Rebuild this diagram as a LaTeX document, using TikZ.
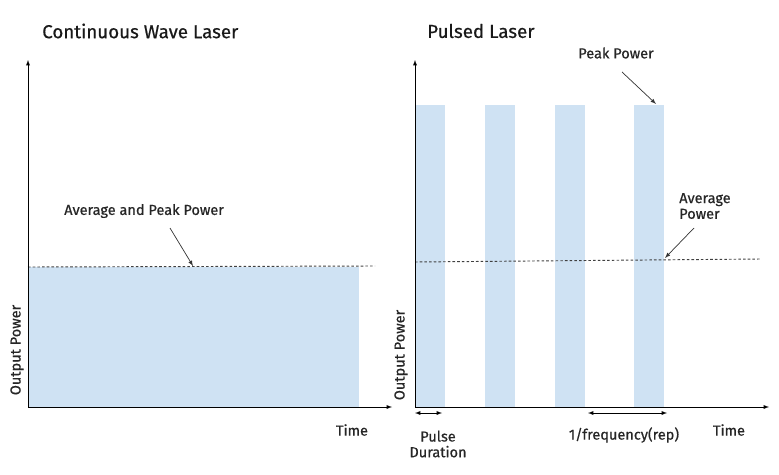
\documentclass[tikz,border=0pt]{standalone}
\usepackage{fontspec}
\setmainfont{Fira Sans}[FakeBold=0.6]
\definecolor{pulseblue}{HTML}{CFE2F3}
\tikzset{
  lbl/.style={font=\fontsize{12.4}{13.4}\selectfont, inner sep=0pt, text=black!85},
  ttl/.style={font=\fontsize{16}{17}\selectfont, inner sep=0pt, text=black!90},
  axis/.style={-latex, line width=0.6pt},
  avg/.style={dashed, dash pattern=on 2.2pt off 1.8pt, line width=0.8pt, black!75},
  ptr/.style={-latex, line width=0.6pt, black!80},
  span/.style={latex-latex, line width=0.6pt}
}
\begin{document}
\begin{tikzpicture}[x=0.03cm, y=-0.03cm]
				\useasboundingbox (0,0) rectangle (779,475);
				% continuous wave laser
				\coordinate (O1) at (28,407);
				\coordinate (Y1) at (28,60);
				\coordinate (X1) at (392,407);
				\coordinate (D1) at (28,267);
				\coordinate (D2) at (375,266);
				\coordinate (P1) at (193,266);
				\fill[pulseblue] (28,267) rectangle (359,407);
				\draw[avg] (D1) -- (D2);
				\draw[axis] (O1) -- (Y1);
				\draw[axis] (O1) -- (X1);
				\node[ttl, anchor=west] (cwt) at (42,31) {Continuous Wave Laser};
				\node[lbl, anchor=west] (cwl) at (64,211) {Average and Peak Power};
				\coordinate (S1) at (170,228);
				\draw[ptr] (S1) -- (P1);
				\node[lbl, rotate=90] (cwy) at (17,350) {Output Power};
				\node[lbl] (cwx) at (352,430) {Time};
				% pulsed laser
				\coordinate (O2) at (415,407);
				\coordinate (Y2) at (415,60);
				\coordinate (X2) at (769,407);
				\foreach \xa/\xb in {416/445, 485/515, 555/585, 634/664}
					\fill[pulseblue] (\xa,105) rectangle (\xb,407);
				\coordinate (D3) at (415,262);
				\coordinate (D4) at (761,259);
				\draw[avg] (D3) -- (D4);
				\draw[axis] (O2) -- (Y2);
				\draw[axis] (O2) -- (X2);
				\node[ttl, anchor=west] (pt) at (427,31) {Pulsed Laser};
				\node[lbl] (pk) at (616,53) {Peak Power};
				\coordinate (S2) at (622,72);
				\coordinate (P2) at (656,104);
				\draw[ptr] (S2) -- (P2);
				\node[lbl, align=left, anchor=west] (av) at (679,206) {Average\\Power};
				\coordinate (S3) at (694,228);
				\coordinate (P3) at (665,258);
				\draw[ptr] (S3) -- (P3);
				\coordinate (W1) at (415,413);
				\coordinate (W2) at (442,413);
				\draw[span] (W1) -- (W2);
				\coordinate (R1) at (588,413);
				\coordinate (R2) at (667,413);
				\draw[span] (R1) -- (R2);
				\node[lbl, align=center] (pd) at (438,444) {Pulse\\Duration};
				\node[lbl] (rep) at (624,435) {1/frequency(rep)};
				\node[lbl] (ptx) at (729,430) {Time};
				\node[lbl, rotate=90] (pty) at (401,355) {Output Power};
\end{tikzpicture}
\end{document}
